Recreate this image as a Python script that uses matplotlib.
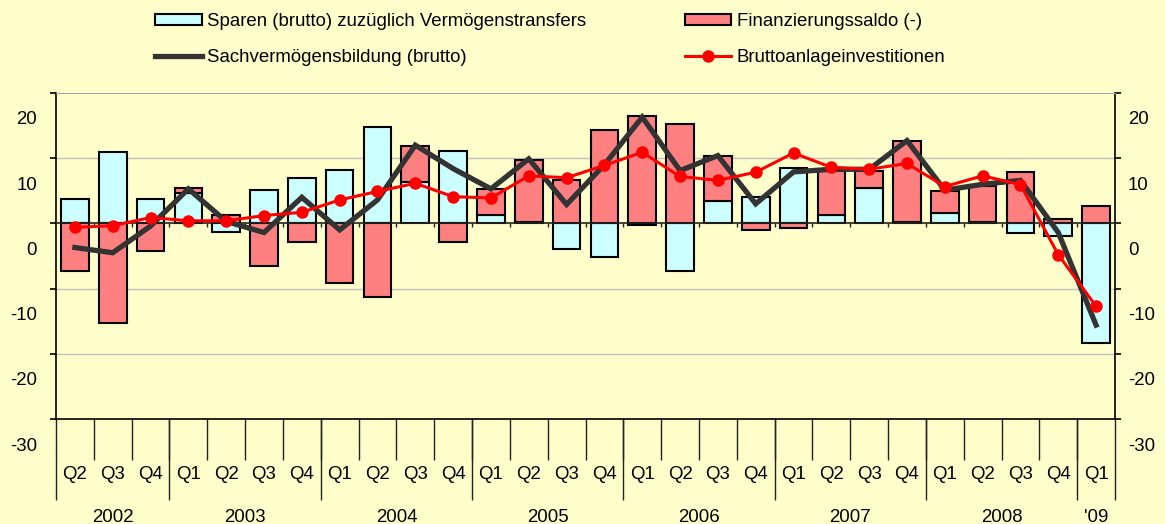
import numpy as np
import matplotlib
matplotlib.use("Agg")
import matplotlib.pyplot as plt
from matplotlib.transforms import offset_copy

plt.rcParams['font.family'] = ['Liberation Sans', 'DejaVu Sans']

# quarters 2002 Q2 .. 2009 Q1
quarters = ["Q2", "Q3", "Q4",
            "Q1", "Q2", "Q3", "Q4",
            "Q1", "Q2", "Q3", "Q4",
            "Q1", "Q2", "Q3", "Q4",
            "Q1", "Q2", "Q3", "Q4",
            "Q1", "Q2", "Q3", "Q4",
            "Q1", "Q2", "Q3", "Q4",
            "Q1"]
years = ["2002", "2003", "2004", "2005", "2006", "2007", "2008", "'09"]
quarters_per_year = [3, 4, 4, 4, 4, 4, 4, 1]

sparen = [3.8, 10.9, 3.8, 4.7, -1.3, 5.1, 6.9, 8.2, 14.8, 6.4, 11.1,
          1.3, 0.2, -3.9, -5.2, -0.3, -7.3, 3.4, 4.0, 8.5, 1.3, 5.5,
          0.2, 1.6, 0.2, -1.5, -2.0, -18.3]
finanz = [-7.3, -15.3, -4.2, 0.7, 1.3, -6.5, -2.9, -9.2, -11.3, 5.4, -2.8,
          3.9, 9.5, 6.7, 14.3, 16.4, 15.3, 6.9, -1.0, -0.7, 6.8, 2.6,
          12.5, 3.4, 5.6, 7.9, 0.6, 2.6]
sachverm = [-3.7, -4.5, -0.4, 5.3, 0.3, -1.4, 4.0, -1.0, 3.6, 12.0, 8.4,
            5.3, 9.9, 2.9, 9.0, 16.3, 8.1, 10.4, 3.0, 7.9, 8.3, 8.3,
            12.7, 5.1, 6.0, 6.6, -1.4, -15.6]
brutto = [-0.6, -0.35, 0.9, 0.4, 0.4, 1.2, 1.7, 3.6, 4.9, 6.15, 4.1,
          3.9, 7.3, 7.0, 8.9, 10.9, 7.2, 6.6, 7.85, 10.8, 8.6, 8.3,
          9.2, 5.65, 7.3, 5.95, -4.8, -12.7]

yticks = [20, 10, 0, -10, -20, -30]

BG = "#FFFFCC"
FS = 13.4
W, H, DPI = 1165, 524, 100
fig = plt.figure(figsize=(W / DPI, H / DPI), dpi=DPI, facecolor=BG)
ax = fig.add_axes([56 / W, 1 - 419 / H, (1115 - 56) / W, (419 - 93) / H], facecolor=BG)

x = np.arange(len(quarters))
sp = np.array(sparen)
fi = np.array(finanz)
fi_bottom = np.where(fi >= 0, np.maximum(sp, 0), np.minimum(sp, 0))

b1 = ax.bar(x, sp, width=0.73, color="#CCFFFF", edgecolor="black", linewidth=1.5, zorder=2,
            label="Sparen (brutto) zuzüglich Vermögenstransfers")
b2 = ax.bar(x, fi, bottom=fi_bottom, width=0.73, color="#FF8080", edgecolor="black",
            linewidth=1.5, zorder=2, label="Finanzierungssaldo (-)")
l1, = ax.plot(x, sachverm, color="#333333", lw=3.8, zorder=4, solid_joinstyle="miter",
              label="Sachvermögensbildung (brutto)")
l2, = ax.plot(x, brutto, color="#FF0000", lw=2.2, marker="o", ms=8, zorder=5,
              label="Bruttoanlageinvestitionen")

ax.set_xlim(-0.5, len(quarters) - 0.5)
ax.set_ylim(-30, 20)

# grid
for v in [10, -10, -20]:
    ax.axhline(v, color="#C0C0C0", lw=1, zorder=0)
ax.spines["top"].set_color("#A8A8A8")
for s in ["left", "right", "bottom"]:
    ax.spines[s].set_color("black")
    ax.spines[s].set_linewidth(1.2)

# zero category axis with small ticks
ax.axhline(0, color="#222222", lw=1.2, zorder=3)
bounds = np.arange(0.5, len(quarters) - 0.5, 1)
ax.vlines(bounds, -0.6, 0, color="#222222", lw=1, zorder=3)

# y axis ticks both sides, labels shifted down like the original
ax.set_yticks(yticks)
ax.set_yticklabels([])
ax.tick_params(axis="y", which="both", left=True, right=True, direction="out",
               length=4, width=1.2, color="black")
left_tr = offset_copy(ax.get_yaxis_transform(), fig=fig, x=-19, y=-27, units="dots")
right_tr = offset_copy(ax.get_yaxis_transform(), fig=fig, x=13, y=-27, units="dots")
for v in yticks:
    ax.text(0, v, str(v), transform=left_tr, ha="right", va="center", fontsize=FS, clip_on=False)
    ax.text(1, v, str(v), transform=right_tr, ha="left", va="center", fontsize=FS, clip_on=False)

# category table below the plot
ax.set_xticks(x)
ax.set_xticklabels(quarters, fontsize=FS)
ax.set_xticks(bounds, minor=True)
ax.tick_params(axis="x", which="major", length=0, pad=34)
ax.tick_params(axis="x", which="minor", length=29.5, width=1, color="#222222", direction="out")

ends = np.cumsum(quarters_per_year)
starts = ends - np.array(quarters_per_year)
year_bounds = np.concatenate([[-0.5], ends - 0.5])
year_centers = (starts + ends - 1) / 2
sec = ax.secondary_xaxis("bottom")
sec.set_xticks(year_bounds)
sec.set_xticklabels([])
sec.set_xticks(year_centers, minor=True)
sec.set_xticklabels(years, minor=True, fontsize=FS)
sec.tick_params(axis="x", which="major", length=58, width=1, color="#222222", direction="out")
sec.tick_params(axis="x", which="minor", length=0, pad=64.5)
sec.spines["bottom"].set_visible(False)

fig.legend(handles=[b1, l1, b2, l2], loc="upper left", bbox_to_anchor=(155 / W, 1 - 13 / H),
           ncol=2, frameon=False, fontsize=FS, handlelength=2.5, handleheight=0.55,
           handletextpad=0.3, columnspacing=5.3, labelspacing=1.0,
           borderpad=0, borderaxespad=0)

fig.savefig("out.png", dpi=DPI, facecolor=BG)
